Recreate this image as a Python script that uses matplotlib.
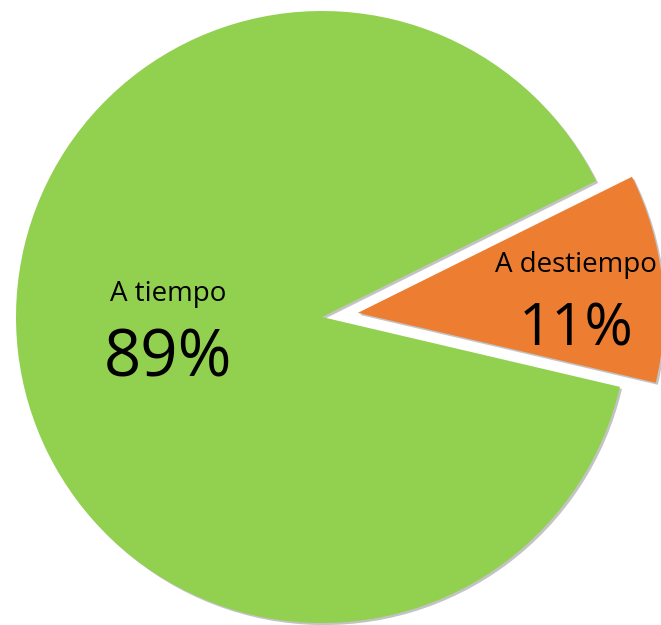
import numpy as np
import matplotlib
matplotlib.use('Agg')
import matplotlib.pyplot as plt
import matplotlib.patheffects as pe

# datos
etiquetas = ['A tiempo', 'A destiempo']
valores = [89, 11]
colores = ['#92D050', '#ED7D31']
separacion = [0, 0.118]

fig = plt.figure(figsize=(6.61, 6.25), dpi=100)
ax = fig.add_axes([0, 0, 1, 1])

wedges, _ = ax.pie(valores, colors=colores, explode=separacion, startangle=26.4,
                   counterclock=True, radius=1, center=(0, 0),
                   wedgeprops=dict(linewidth=0))

# sombra suave en los bordes
for w in wedges:
    w.set_path_effects([pe.SimplePatchShadow(offset=(1.5, -1.5), shadow_rgbFace='#555555', alpha=0.35),
                        pe.Normal()])

# etiquetas dentro de cada porción
fuente = ['Open Sans', 'DejaVu Sans']
for w, et, v, r_et, fs in zip(wedges, etiquetas, valores, [0.504, 0.714], [47, 42]):
    ang = np.deg2rad((w.theta1 + w.theta2) / 2 - 2.8)
    cx, cy = w.center
    x = cx + r_et * np.cos(ang)
    y = cy + r_et * np.sin(ang)
    ax.text(x, y + 0.11, et, ha='center', va='center', fontsize=20, family=fuente)
    ax.text(x, y - 0.105, f'{v}%', ha='center', va='center', fontsize=fs, family=fuente)

ax.set_xlim(-322 / 306, (661 - 322) / 306)
ax.set_ylim(-(625 - 317) / 306, 317 / 306)
ax.set_aspect('equal')
ax.axis('off')

fig.savefig('out.png', dpi=100)
